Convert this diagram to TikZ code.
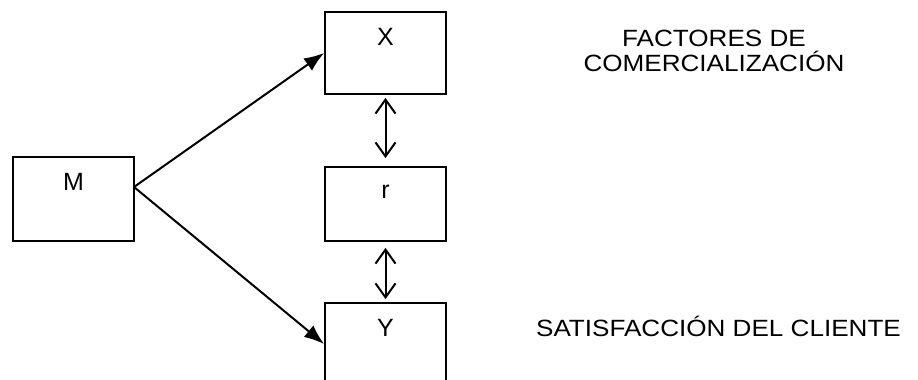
\documentclass[tikz,border=0pt]{standalone}
\usepackage{fontspec}
\setmainfont{Liberation Sans}
\usetikzlibrary{arrows.meta}

\begin{document}
\begin{tikzpicture}[x=1pt,y=-1pt,line width=2pt]
   \tikzset{caja/.style 2 args={draw, rectangle, line width=1.8pt, minimum width=121pt, minimum height=#1, inner sep=0pt,
            label={[anchor=center, yshift=-26pt, font=\fontsize{25}{30}\selectfont]north:#2}}};
   \tikzset{flecha/.style={-{Latex[length=20pt,width=15pt]}}};
   \tikzset{doble/.style={{Straight Barb[length=14pt,width=20pt]}-{Straight Barb[length=14pt,width=20pt]}}};
   \tikzset{texto/.style={align=center, xscale=1.11, transform shape, font=\fontsize{23.5}{25.5}\selectfont}};

\useasboundingbox (0,0) rectangle (918,380);

\node[caja={84pt}{M}] (M) at (73.5,199) {};
\node[caja={82pt}{X}] (X) at (385.5,53) {};
\node[caja={74pt}{r}] (r) at (385.5,204) {};
\node[caja={82pt}{Y}] (Y) at (385.5,344) {};

\node[texto] (fx) at (714,51) {FACTORES DE\\COMERCIALIZACIÓN};
\node[texto] (fy) at (718.5,326) {SATISFACCIÓN DEL CLIENTE};

%M-----------------------
\coordinate (m) at (134,187);
\draw[flecha] (m) -- (X.west);
\draw[flecha] (m) -- (Y.west);

%r-----------------------
\draw[doble] ([yshift=-3pt]X.south) -- ([yshift=8pt]r.north);
\draw[doble] ([yshift=-6pt]r.south) -- ([yshift=3pt]Y.north);

\end{tikzpicture}
\end{document}
